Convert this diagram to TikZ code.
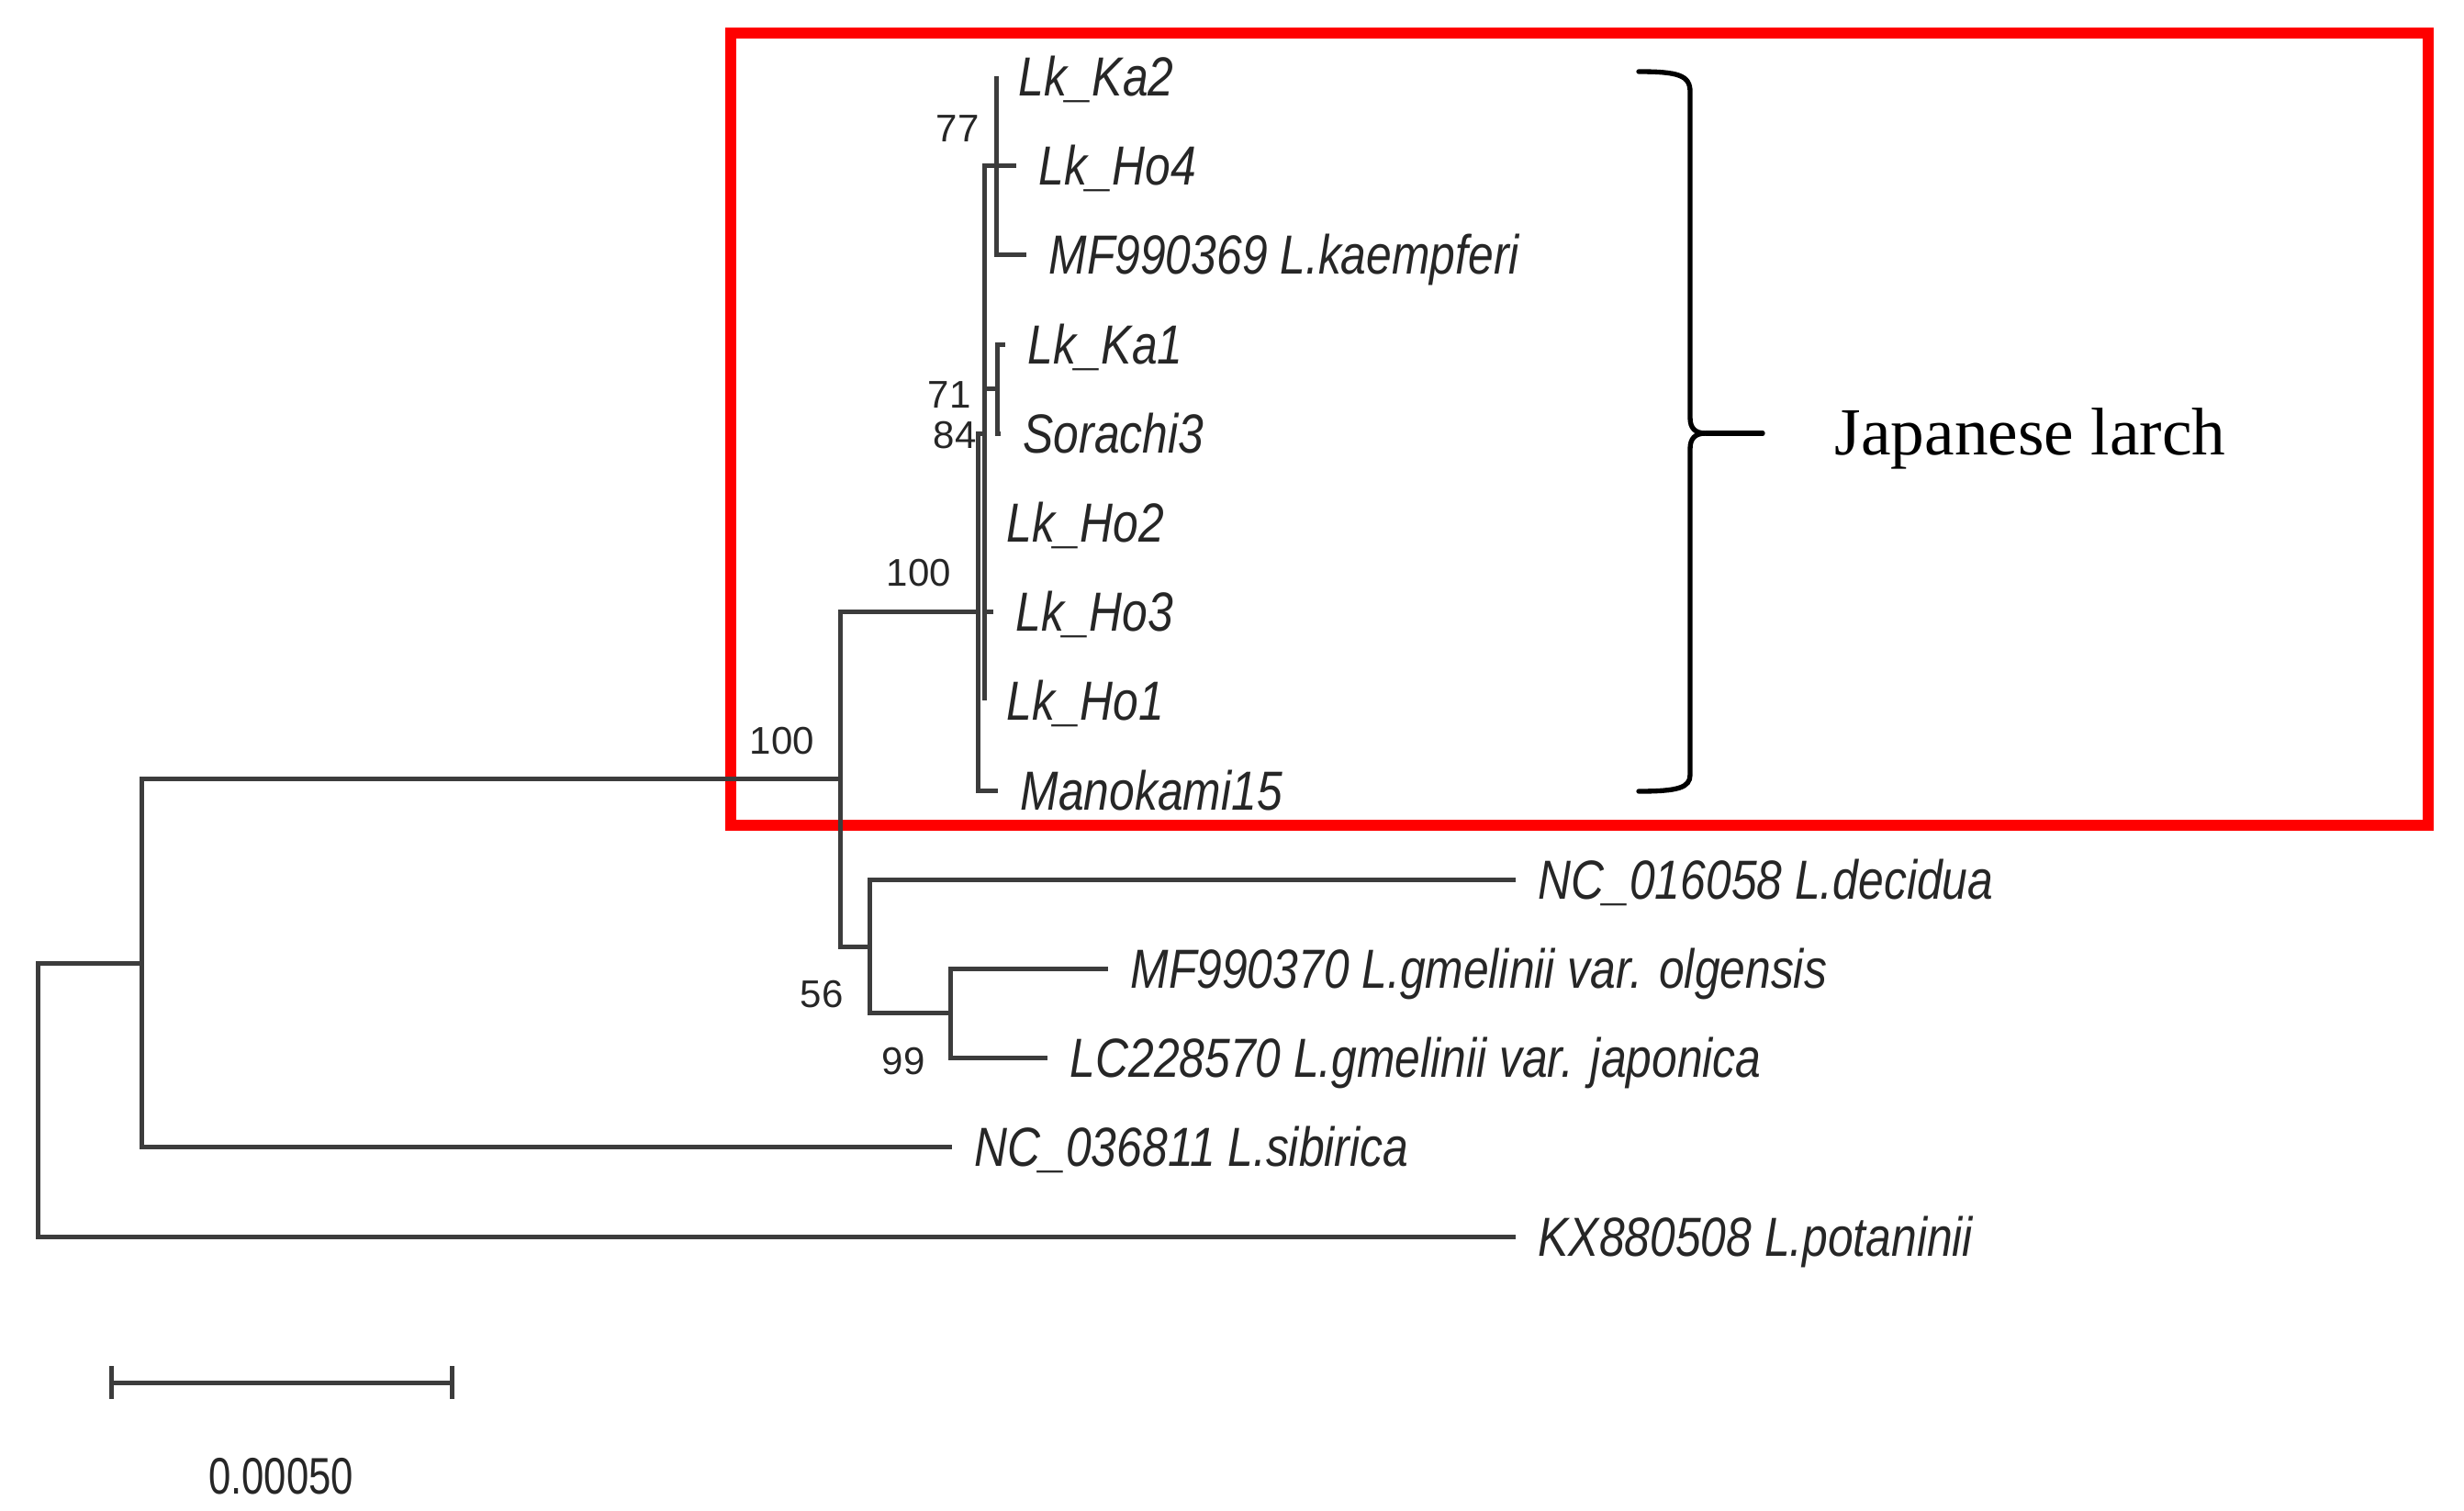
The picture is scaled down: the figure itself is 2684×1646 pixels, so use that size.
\documentclass[tikz,border=0pt]{standalone}
\usepackage{fontspec}
\setmainfont{Liberation Sans}
\newfontfamily\leaffont[FakeStretch=0.83]{Liberation Sans}
\newfontfamily\barlabelfont[FakeStretch=0.78]{Liberation Sans}
\newfontfamily\larchfont{Liberation Serif}
\definecolor{treegray}{HTML}{3C3C3C}
\definecolor{txtgray}{HTML}{262626}
\definecolor{boxred}{HTML}{FF0000}
\tikzset{
  branch/.style={draw=treegray, line width=1.5pt},
  leaf/.style={anchor=base west, inner sep=0pt, xshift=7.2pt, yshift=-6.4pt,
    text=txtgray, font=\leaffont\itshape\fontsize{18pt}{20pt}\selectfont},
  boot/.style={anchor=center, inner sep=0pt, text=txtgray,
    font=\fontsize{12.6pt}{14pt}\selectfont},
  hlbox/.style={draw=boxred, line width=3.6pt},
  bracestyle/.style={draw=black, line width=1.6pt, line cap=round},
}
\begin{document}
\begin{tikzpicture}[x=0.3pt,y=-0.3pt]
\useasboundingbox (0,0) rectangle (2684,1646);
\fill[white] (0,0) rectangle (2684,1646);

% internal nodes
\coordinate (root) at (41,1198);
\coordinate (nsib) at (154,1049);
\coordinate (nA) at (915,848);
\coordinate (nB) at (1065,666);
\coordinate (n84) at (1072,472);
\coordinate (n77) at (1085,180);
\coordinate (n71) at (1086,423);
\coordinate (n56) at (947,1031);
\coordinate (n99) at (1035,1103);
% leaf tips
\coordinate (tKa2) at (1085,83);
\coordinate (tHo4) at (1107,180);
\coordinate (tMFa) at (1118,277);
\coordinate (tKa1) at (1095,375);
\coordinate (tSor) at (1090,472);
\coordinate (tHo2) at (1072,569);
\coordinate (tHo3) at (1082,666);
\coordinate (tHo1) at (1072,763);
\coordinate (tMan) at (1087,861);
\coordinate (tDec) at (1651,958);
\coordinate (tOlg) at (1207,1055);
\coordinate (tJap) at (1141,1152);
\coordinate (tSib) at (1037,1249);
\coordinate (tPot) at (1651,1347);

% red highlight box
\draw[hlbox] (796,36) rectangle (2645,899);

% branches
\draw[branch] (root) |- (nsib);
\draw[branch] (root) |- (tPot);
\draw[branch] (nsib) |- (nA);
\draw[branch] (nsib) |- (tSib);
\draw[branch] (nA) |- (nB);
\draw[branch] (nA) |- (n56);
\draw[branch] (n56) |- (tDec);
\draw[branch] (n56) |- (n99);
\draw[branch] (n99) |- (tOlg);
\draw[branch] (n99) |- (tJap);
\draw[branch] (nB) |- (n84);
\draw[branch] (nB) |- (tMan);
\draw[branch] (n84) |- (n77);
\draw[branch] (n84) |- (n71);
\draw[branch] (n84) |- (tHo2);
\draw[branch] (n84) |- (tHo3);
\draw[branch] (n84) |- (tHo1);
\draw[branch] (n77) |- (tKa2);
\draw[branch] (n77) -- (tHo4);
\draw[branch] (n77) |- (tMFa);
\draw[branch] (n71) |- (tKa1);
\draw[branch] (n71) |- (tSor);

% leaf labels
\node[leaf] (lKa2) at (tKa2) {Lk\_Ka2};
\node[leaf] (lHo4) at (tHo4) {Lk\_Ho4};
\node[leaf] (lMFa) at (tMFa) {MF990369 L.kaempferi};
\node[leaf] (lKa1) at (tKa1) {Lk\_Ka1};
\node[leaf] (lSor) at (tSor) {Sorachi3};
\node[leaf] (lHo2) at (tHo2) {Lk\_Ho2};
\node[leaf] (lHo3) at (tHo3) {Lk\_Ho3};
\node[leaf] (lHo1) at (tHo1) {Lk\_Ho1};
\node[leaf] (lMan) at (tMan) {Manokami15};
\node[leaf] (lDec) at (tDec) {NC\_016058 L.decidua};
\node[leaf] (lOlg) at (tOlg) {MF990370 L.gmelinii var. olgensis};
\node[leaf] (lJap) at (tJap) {LC228570 L.gmelinii var. japonica};
\node[leaf] (lSib) at (tSib) {NC\_036811 L.sibirica};
\node[leaf] (lPot) at (tPot) {KX880508 L.potaninii};

% bootstrap values
\node[boot] (b77) at (1043,140) {77};
\node[boot] (b71) at (1034,430) {71};
\node[boot] (b84) at (1040,474) {84};
\node[boot] (b100a) at (1001,624) {100};
\node[boot] (b100b) at (852,807) {100};
\node[boot] (b56) at (895,1083) {56};
\node[boot] (b99) at (984,1156) {99};

% brace and clade label
\draw[bracestyle] (1785,78) .. controls (1828,78) and (1841,82) .. (1841,100)
  -- (1841,455) .. controls (1841,466) and (1846,472) .. (1858,472)
  .. controls (1846,472) and (1841,478) .. (1841,489)
  -- (1841,844) .. controls (1841,858) and (1828,862) .. (1785,862);
\draw[bracestyle] (1858,472) -- (1920,472);
\node[anchor=base west, inner sep=0pt, text=black,
  font=\larchfont\fontsize{22pt}{26pt}\selectfont] (larch) at (1998,495) {Japanese larch};

% scale bar
\coordinate (sL) at (121,1506);
\coordinate (sR) at (492,1506);
\coordinate (sLt) at (121,1488);
\coordinate (sLb) at (121,1524);
\coordinate (sRt) at (492,1488);
\coordinate (sRb) at (492,1524);
\draw[branch] (sL) -- (sR);
\draw[branch] (sLt) -- (sLb);
\draw[branch] (sRt) -- (sRb);
\node[anchor=center, inner sep=0pt, text=txtgray,
  font=\barlabelfont\fontsize{16.8pt}{18pt}\selectfont] (slabel) at (306,1608) {0.00050};
\end{tikzpicture}
\end{document}
